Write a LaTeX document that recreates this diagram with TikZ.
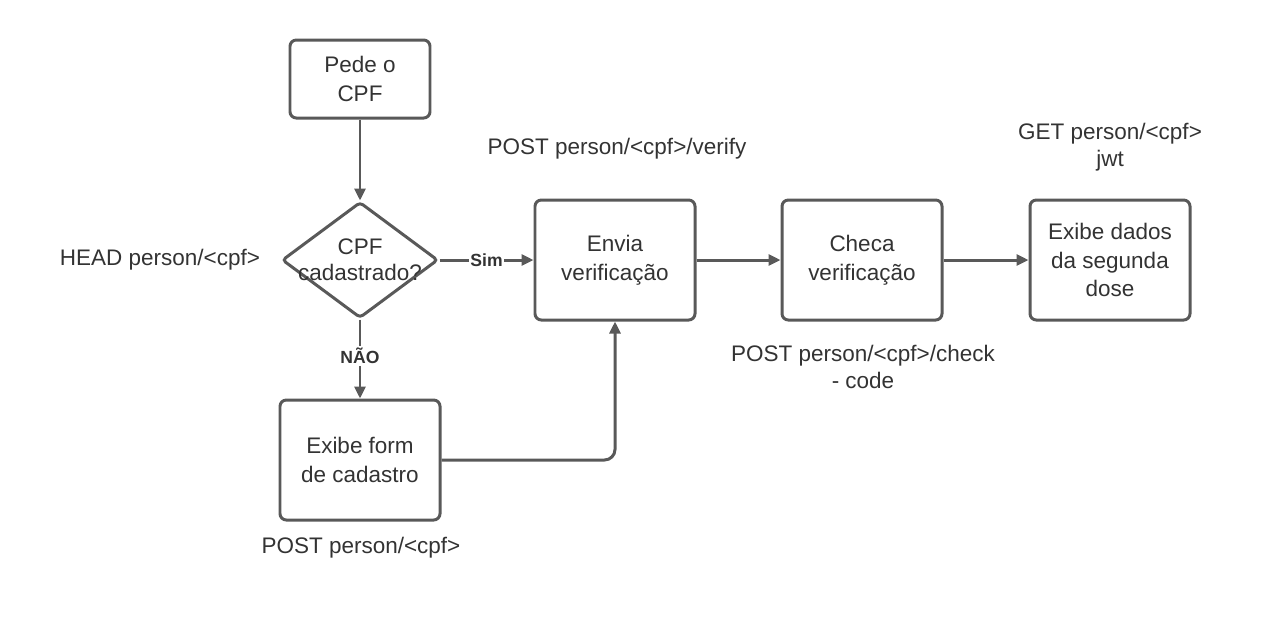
\documentclass[tikz,border=0pt]{standalone}
\usepackage{fontspec}
\setmainfont{Liberation Sans}
\usetikzlibrary{shapes.geometric,arrows.meta}

\definecolor{linha}{HTML}{595959}
\definecolor{texto}{HTML}{333333}

\tikzset{
  box/.style={draw=linha, line width=0.85pt, rounded corners=1.8pt, fill=white,
    minimum width=1.6cm, minimum height=1.2cm, align=center, text=texto,
    font=\fontsize{6.4}{8.2}\selectfont},
  decision/.style={draw=linha, line width=0.85pt, diamond, rounded corners=1pt,
    minimum width=1.56cm, minimum height=1.16cm, inner sep=0pt},
  api/.style={align=center, text=texto, font=\fontsize{6.4}{7.5}\selectfont},
  lbl/.style={fill=white, inner sep=0.5pt, text=texto, font=\bfseries\fontsize{5}{6}\selectfont},
  seta/.style={draw=linha, line width=0.85pt, -{Triangle[length=0.12cm,width=0.11cm]}}
}

\begin{document}
\begin{tikzpicture}
    \useasboundingbox (0,0) rectangle (12.7,-6.2);

    % caixas do fluxo
    \node[box, minimum width=1.4cm, minimum height=0.78cm] (pede) at (3.6,-0.79) {Pede o\\CPF};
    \node[decision] (cad) at (3.6,-2.6) {};
    \node[api] (cadtxt) at (cad) {CPF\\cadastrado?};
    \node[box] (envia) at (6.15,-2.6) {Envia\\verificação};
    \node[box] (checa) at (8.62,-2.6) {Checa\\verificação};
    \node[box] (exibe) at (11.1,-2.6) {Exibe dados\\da segunda\\dose};
    \node[box] (form) at (3.6,-4.6) {Exibe form\\de cadastro};

    % chamadas da API
    \node[api] (head) at (1.6,-2.6) {HEAD person/<cpf>};
    \node[api] (verify) at (6.17,-1.49) {POST person/<cpf>/verify};
    \node[api] (get) at (11.1,-1.47) {GET person/<cpf>\\jwt};
    \node[api] (check) at (8.63,-3.67) {POST person/<cpf>/check\\- code};
    \node[api] (post) at (3.61,-5.48) {POST person/<cpf>};

    % conexoes
    \draw[seta] (pede) -- (cad);
    \draw[seta] (cad) -- node[lbl] {Sim} (envia);
    \draw[seta] (cad) -- node[lbl, pos=0.46] {NÃO} (form);
    \draw[seta] (envia) -- (checa);
    \draw[seta] (checa) -- (exibe);
    \draw[seta, rounded corners=3pt] (form.east) -| (envia.south);
\end{tikzpicture}
\end{document}
